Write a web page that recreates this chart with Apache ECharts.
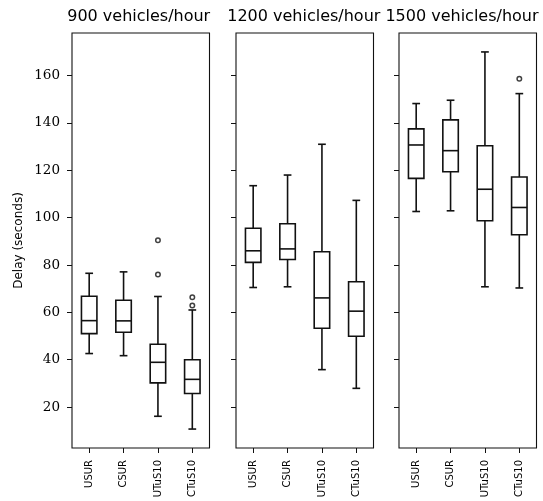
<!DOCTYPE html>
<html>
<head>
<meta charset="utf-8">
<script src="https://cdn.jsdelivr.net/npm/echarts@6/dist/echarts.min.js"></script>
<style>
html,body{margin:0;padding:0;background:#fff;}
#chart{width:543px;height:501px;}
</style>
</head>
<body>
<div id="chart"></div>
<script>
// ---- data ----
const categories = ['USUR', 'CSUR', 'UTuS10', 'CTuS10'];
const panelTitles = ['900 vehicles/hour', '1200 vehicles/hour', '1500 vehicles/hour'];
// [lower whisker, Q1, median, Q3, upper whisker]
const stats900 = [[42.6, 51.0, 56.5, 66.8, 76.5], [41.7, 51.6, 56.4, 65.1, 77.1], [16.1, 30.2, 38.9, 46.5, 66.7], [10.7, 25.7, 31.7, 40.0, 61.0]];
const stats1200 = [[70.5, 81.1, 86.0, 95.5, 113.5], [70.8, 82.3, 86.8, 97.4, 118.0], [35.8, 53.3, 66.1, 85.6, 131.0], [27.9, 49.9, 60.5, 72.9, 107.3]];
const stats1500 = [[102.6, 116.6, 130.7, 137.5, 148.2], [102.9, 119.4, 128.3, 141.3, 149.6], [70.8, 98.7, 112.0, 130.4, 170.0], [70.3, 92.8, 104.3, 117.2, 152.4]];
// [category index, value]
const outliers900 = [[2, 90.5], [2, 76.0], [3, 66.4], [3, 62.9]];
const outliers1200 = [];
const outliers1500 = [[3, 158.7]];
const yTicks = [20, 40, 60, 80, 100, 120, 140, 160];
const yName = 'Delay (seconds)';

const allStats = [stats900, stats1200, stats1500];
const allOutliers = [outliers900, outliers1200, outliers1500];

// ---- layout ----
const gridLefts = [72, 236, 399];
const titleCenters = [138.7, 303.8, 462];
const gridW = 137.5, gridTop = 33, gridH = 415;
const LINE = '#111';

const chart = echarts.init(document.getElementById('chart'), null, {renderer: 'canvas'});

function renderBox(params, api) {
  const x = api.value(0);
  const lo = api.coord([x, api.value(1)]);
  const q1 = api.coord([x, api.value(2)]);
  const md = api.coord([x, api.value(3)]);
  const q3 = api.coord([x, api.value(4)]);
  const hi = api.coord([x, api.value(5)]);
  const band = api.size([1, 0])[0];
  const bw = band * 0.45;
  const cw = bw * 0.5;
  const cx = lo[0];
  const st = {stroke: LINE, lineWidth: 1.6, fill: null};
  const line = (x1, y1, x2, y2) => ({type: 'line', shape: {x1, y1, x2, y2}, style: st});
  return {
    type: 'group',
    children: [
      {type: 'rect', shape: {x: cx - bw / 2, y: q3[1], width: bw, height: q1[1] - q3[1]}, style: {stroke: LINE, lineWidth: 1.6, fill: 'rgba(0,0,0,0)'}},
      line(cx - bw / 2, md[1], cx + bw / 2, md[1]),
      line(cx, q1[1], cx, lo[1]),
      line(cx, q3[1], cx, hi[1]),
      line(cx - cw / 2, lo[1], cx + cw / 2, lo[1]),
      line(cx - cw / 2, hi[1], cx + cw / 2, hi[1])
    ]
  };
}

const grids = [], xAxes = [], yAxes = [], series = [], titles = [];
for (let i = 0; i < 3; i++) {
  grids.push({left: gridLefts[i], top: gridTop, width: gridW, height: gridH, show: true,
    borderColor: LINE, borderWidth: 1.1, backgroundColor: 'transparent', containLabel: false});
  titles.push({text: panelTitles[i], left: titleCenters[i], top: 9, textAlign: 'center', padding: 0,
    textStyle: {fontFamily: 'DejaVu Sans', fontSize: 16, fontWeight: 'normal', color: '#000'}});
  xAxes.push({type: 'category', gridIndex: i, data: categories, boundaryGap: true,
    axisLine: {show: false},
    axisTick: {show: true, alignWithLabel: true, length: 5, lineStyle: {color: LINE, width: 1}},
    axisLabel: {rotate: 90, margin: 12, fontFamily: 'DejaVu Sans', fontSize: 10, color: '#000', interval: 0},
    splitLine: {show: false}});
  yAxes.push({type: 'value', gridIndex: i, min: 2.7, max: 178,
    name: i === 0 ? yName : '', nameLocation: 'middle', nameGap: 47,
    nameTextStyle: {fontFamily: 'DejaVu Sans', fontSize: 12, color: '#000'},
    axisLine: {show: false},
    axisTick: {show: true, length: 5, customValues: yTicks, lineStyle: {color: LINE, width: 1}},
    axisLabel: {show: i === 0, customValues: yTicks, margin: 12, fontFamily: 'DejaVu Serif', fontSize: 13.5, color: '#000'},
    splitLine: {show: false}});
  const boxData = allStats[i].map((s, k) => [k].concat(s));
  series.push({type: 'custom', xAxisIndex: i, yAxisIndex: i, renderItem: renderBox,
    encode: {x: 0, y: [1, 2, 3, 4, 5]}, data: boxData, silent: true, animation: false});
  series.push({type: 'scatter', xAxisIndex: i, yAxisIndex: i, data: allOutliers[i],
    symbol: 'circle', symbolSize: 4.5,
    itemStyle: {color: '#fff', borderColor: LINE, borderWidth: 1.5}, silent: true, animation: false});
}

chart.setOption({
  backgroundColor: '#fff',
  animation: false,
  title: titles,
  grid: grids,
  xAxis: xAxes,
  yAxis: yAxes,
  series: series
});
</script>
</body>
</html>
